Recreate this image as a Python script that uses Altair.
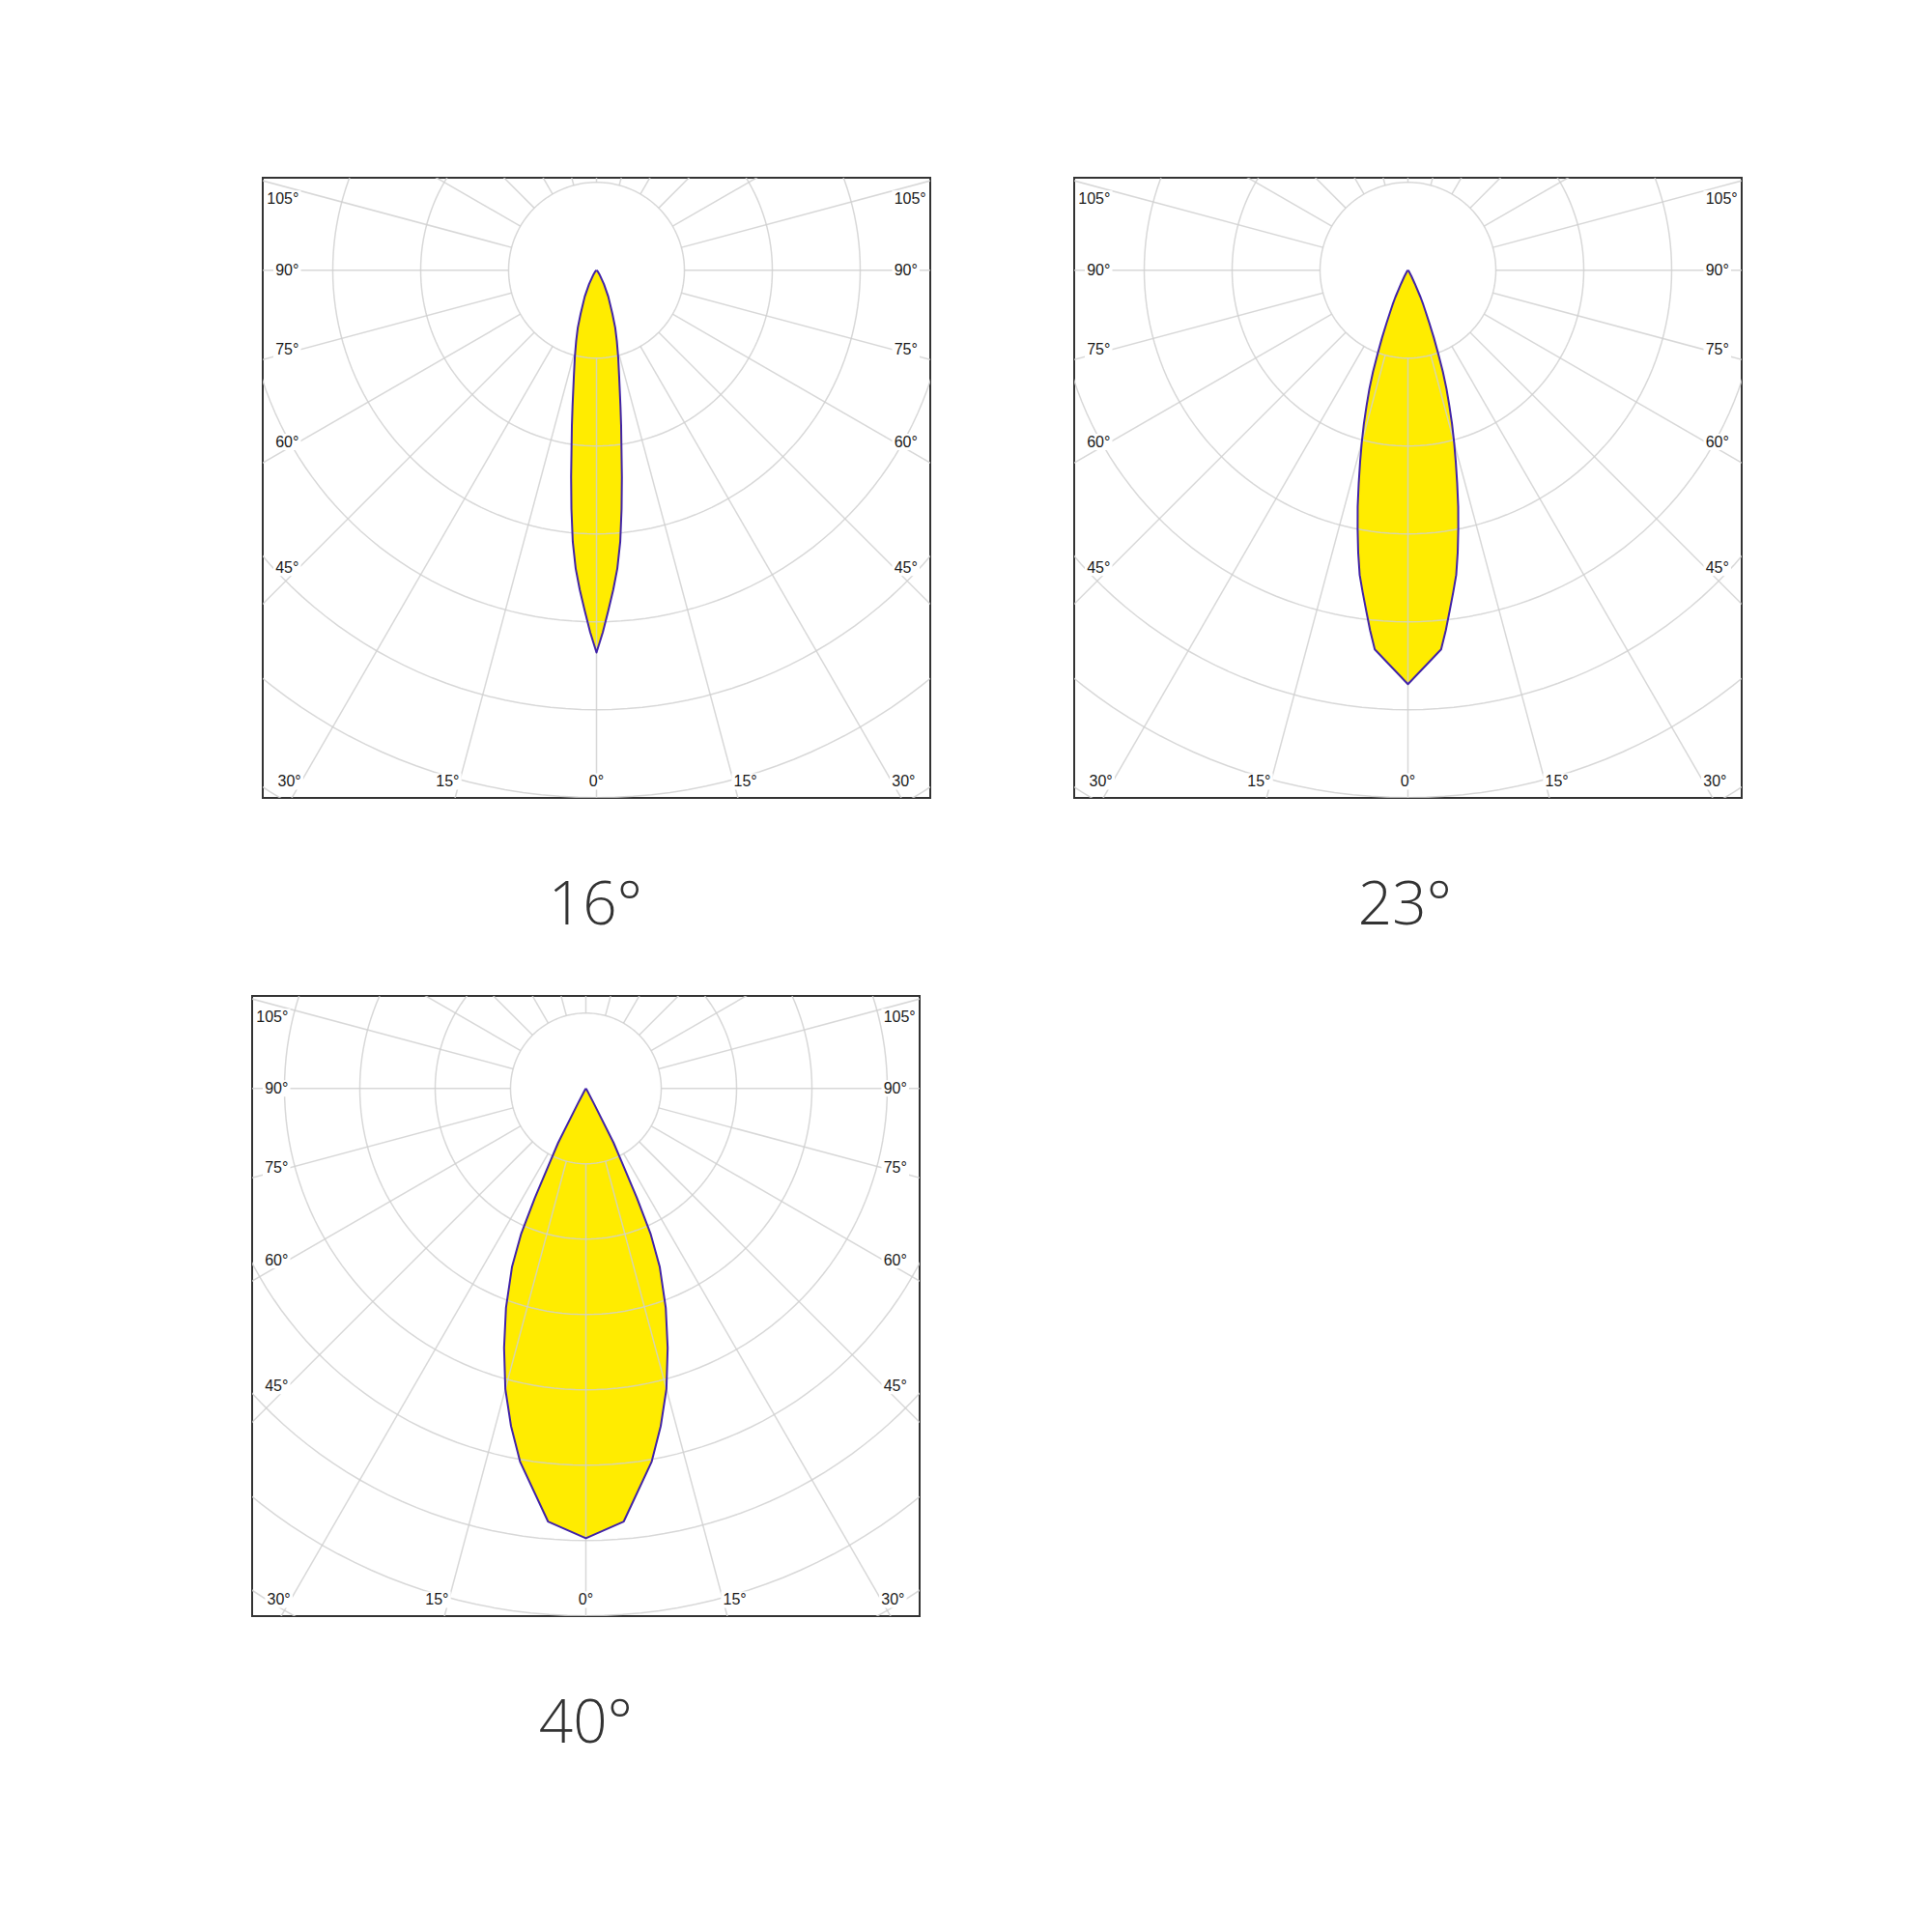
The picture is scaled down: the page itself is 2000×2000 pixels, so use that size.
import math
import altair as alt
import pandas as pd

# ---------------- data ----------------
TITLES = ["16°", "23°", "40°"]

# polar intensity curves: angle from nadir (deg) -> radius in grid-ring units
BEAM16_ANGLES = [0, 1, 2, 3, 4, 5, 6, 7, 8, 9, 10, 12, 14, 16, 18, 20, 24, 28, 35, 45, 90]
BEAM16_VALUES = [4.35, 4.12, 3.87, 3.64, 3.40, 3.10, 2.73, 2.37, 2.04, 1.79, 1.57,
                 1.24, 1.02, 0.84, 0.69, 0.53, 0.33, 0.18, 0.06, 0.02, 0.0]

BEAM23_ANGLES = [0, 5, 6, 7, 8, 9, 10, 11, 12, 13, 14, 15, 16, 17, 18, 19, 20, 21,
                 22, 23, 24, 25, 27, 30, 35, 45, 90]
BEAM23_VALUES = [4.71, 4.33, 4.12, 3.90, 3.70, 3.51, 3.26, 3.00, 2.75, 2.49, 2.25,
                 2.03, 1.82, 1.61, 1.42, 1.22, 1.00, 0.82, 0.65, 0.52, 0.43, 0.34,
                 0.17, 0.08, 0.03, 0.01, 0.0]

BEAM40_ANGLES = [0, 5, 10, 12.5, 15, 17.5, 20, 22.5, 24, 25, 26, 27, 28, 29, 32, 90]
BEAM40_VALUES = [5.97, 5.77, 5.03, 4.59, 4.13, 3.61, 3.10, 2.56, 2.11, 1.60, 1.08,
                 0.81, 0.22, 0.08, 0.02, 0.0]

SIDE_TICKS = [45, 60, 75, 90, 105]
BOTTOM_TICKS = [0, 15, 30]
SPOKE_ANGLES = list(range(0, 360, 15))
RINGS = list(range(1, 13))

# ---------------- layout / style ----------------
W, H = 691, 642            # frame size of each diagram (px)
POLE_X, POLE_Y = 345.5, 95.7
UNIT_PX = [91.0, 91.0, 78.0]
SIDE_INSET = 308.0         # px from pole to inner edge of side labels
BOTTOM_DY = H - POLE_Y - 17
LABEL_SIZE = 16
TITLE_BAND = 203           # px between a frame's bottom and the next row's top
TITLE_BASE = 130           # title baseline below frame bottom

YELLOW = "#FFEC00"
OUTLINE = "#4123A8"
GRID = "#CFCFCF"
FRAME = "#333333"
TEXT = "#1a1a1a"


def text_w(s):
    return LABEL_SIZE * (0.556 * (len(s) - 1) + 0.42)


def build_panel(angles, values, u):
    xs = alt.Scale(domain=[-POLE_X / u, (W - POLE_X) / u], nice=False, zero=False)
    ys = alt.Scale(domain=[-(H - POLE_Y) / u, POLE_Y / u], nice=False, zero=False)

    def X(f):
        return alt.X(f, type="quantitative", scale=xs, axis=None)

    def Y(f):
        return alt.Y(f, type="quantitative", scale=ys, axis=None)

    half = pd.DataFrame({"a": angles, "r": values})
    loop_a = [-a for a in reversed(angles)] + list(angles[1:])
    loop_r = list(reversed(values)) + list(values[1:])
    loop = pd.DataFrame({"i": list(range(len(loop_a))), "a": loop_a, "r": loop_r})

    fill = alt.Chart(half).transform_calculate(
        x="datum.r * sin(datum.a * PI / 180)",
        x2="-datum.r * sin(datum.a * PI / 180)",
        y="-datum.r * cos(datum.a * PI / 180)",
    ).mark_area(orient="horizontal", color=YELLOW, opacity=1, clip=True).encode(
        x=X("x"), x2=alt.X2("x2:Q"), y=Y("y")
    )

    ring_rows = [{"k": k, "j": j} for k in RINGS for j in range(0, 361, 2)]
    rings = alt.Chart(pd.DataFrame(ring_rows)).transform_calculate(
        x="datum.k * sin(datum.j * PI / 180)",
        y="-datum.k * cos(datum.j * PI / 180)",
    ).mark_line(color=GRID, strokeWidth=1.5, opacity=0.82, clip=True).encode(
        x=X("x"), y=Y("y"), detail="k:N", order="j:Q"
    )

    spokes = alt.Chart(pd.DataFrame({"a": SPOKE_ANGLES})).transform_calculate(
        x="sin(datum.a * PI / 180)",
        y="-cos(datum.a * PI / 180)",
        x2="20 * sin(datum.a * PI / 180)",
        y2="-20 * cos(datum.a * PI / 180)",
    ).mark_rule(color=GRID, strokeWidth=1.5, opacity=0.82, clip=True).encode(
        x=X("x"), y=Y("y"), x2=alt.X2("x2:Q"), y2=alt.Y2("y2:Q")
    )

    outline = alt.Chart(loop).transform_calculate(
        x="datum.r * sin(datum.a * PI / 180)",
        y="-datum.r * cos(datum.a * PI / 180)",
    ).mark_line(color=OUTLINE, strokeWidth=2, strokeJoin="round", clip=True).encode(
        x=X("x"), y=Y("y"), order="i:Q"
    )

    rows = []
    for a in SIDE_TICKS:
        t = f"{a}°"
        w = text_w(t)
        dy = 0.0 if a == 90 else SIDE_INSET / math.tan(math.radians(a))
        dy = max(dy, -74.0)
        for side in (-1, 1):
            cx = side * (SIDE_INSET + w / 2)
            rows.append({"t": t, "cx": cx, "cy": dy, "w": w})
    for a in BOTTOM_TICKS:
        t = f"{a}°"
        w = text_w(t)
        xl = BOTTOM_DY * math.tan(math.radians(a))
        sides = (0,) if a == 0 else (-1, 1)
        for side in sides:
            cx = 0.0 if side == 0 else side * (xl + w / 2)
            rows.append({"t": t, "cx": cx, "cy": BOTTOM_DY, "w": w})
    lab = pd.DataFrame(rows)
    lab["lx"] = lab["cx"] / u
    lab["ly"] = -lab["cy"] / u
    lab["bx1"] = (lab["cx"] - lab["w"] / 2 - 2) / u
    lab["bx2"] = (lab["cx"] + lab["w"] / 2 + 2) / u
    lab["by1"] = (-lab["cy"] - 8.5) / u
    lab["by2"] = (-lab["cy"] + 8.5) / u

    boxes = alt.Chart(lab).mark_rect(color="white", clip=True).encode(
        x=X("bx1"), x2=alt.X2("bx2:Q"), y=Y("by1"), y2=alt.Y2("by2:Q")
    )
    labels = alt.Chart(lab).mark_text(
        font="Liberation Sans", fontSize=LABEL_SIZE, color=TEXT,
        align="center", baseline="middle", clip=True,
    ).encode(x=X("lx"), y=Y("ly"), text="t:N")

    return alt.layer(fill, spokes, rings, outline, boxes, labels).properties(
        width=W, height=H,
        view=alt.ViewBackground(stroke=FRAME, strokeWidth=2, strokeOpacity=1),
    )


def title_band(title):
    return alt.Chart(pd.DataFrame({"t": [title]})).mark_text(
        font="Open Sans", fontWeight=300, fontSize=62, color="#333333",
        align="center", baseline="alphabetic",
    ).encode(
        x=alt.value(W / 2), y=alt.value(TITLE_BASE), text="t:N"
    ).properties(width=W, height=TITLE_BAND)


def spacer(w, h):
    return alt.Chart(pd.DataFrame({"v": [0]})).mark_rect(opacity=0).encode(
        x=alt.value(0), x2=alt.value(w), y=alt.value(0), y2=alt.value(h)
    ).properties(width=w, height=h)


p1 = build_panel(BEAM16_ANGLES, BEAM16_VALUES, UNIT_PX[0])
p2 = build_panel(BEAM23_ANGLES, BEAM23_VALUES, UNIT_PX[1])
p3 = build_panel(BEAM40_ANGLES, BEAM40_VALUES, UNIT_PX[2])

row1 = alt.hconcat(spacer(10, H), p1, spacer(147, H), p2, spacing=0)
row1_titles = alt.hconcat(spacer(10, TITLE_BAND), title_band(TITLES[0]),
                          spacer(147, TITLE_BAND), title_band(TITLES[1]), spacing=0)

chart = alt.vconcat(
    row1, row1_titles, p3, title_band(TITLES[2]), spacing=0
).properties(
    padding={"left": 252, "top": 175, "right": 10, "bottom": 10}
).configure_view(strokeOpacity=0)

chart.save("out.html", embed_options={"renderer": "svg", "actions": False})
